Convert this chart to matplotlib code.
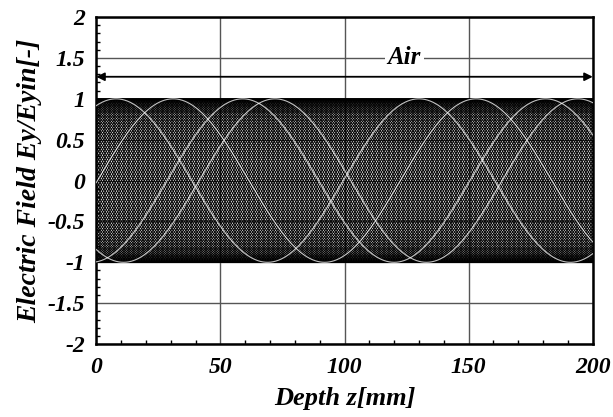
import matplotlib.pyplot as plt
import numpy as np

# wave parameters
wavelength_mm = 122.0          # distance between white arc peaks of the same family
n_snapshots = 120              # number of time snapshots drawn (black curves)
gap_peaks_mm = [8, 31, 59, 72]  # peak positions of the white (gap) arcs

depth_range = [0, 200]
xticks = [0, 50, 100, 150, 200]
yticks = [-2, -1.5, -1, -0.5, 0, 0.5, 1, 1.5, 2]
ytick_labels = ['-2', '-1.5', '-1', '-0.5', '0', '0.5', '1', '1.5', '2']
region_label = 'Air'
region_y = 1.27


def main():
    font = {'family': 'Liberation Serif', 'weight': 'bold', 'style': 'italic'}
    fig = plt.figure(figsize=(6.13, 4.17), dpi=100)
    ax = fig.add_axes([0.157, 0.175, 0.81, 0.784])

    z = np.linspace(depth_range[0], depth_range[1], 1201)
    k = 2 * np.pi / wavelength_mm
    for i in range(n_snapshots):
        phase = 2 * np.pi * i / n_snapshots
        ax.plot(z, np.cos(k * z - phase), color='black', lw=0.75, zorder=2)
    for p in gap_peaks_mm:
        ax.plot(z, np.cos(k * (z - p)), color='white', lw=0.8, alpha=0.75, zorder=3)

    ax.set_xlim(depth_range)
    ax.set_ylim(-2, 2)
    ax.set_xticks(xticks)
    ax.set_xticks(np.arange(0, 201, 10), minor=True)
    ax.set_yticks(yticks)
    ax.set_yticks(np.arange(-2, 2.01, 0.1), minor=True)
    ax.set_xticklabels([str(x) for x in xticks], fontdict=font, fontsize=17)
    ax.set_yticklabels(ytick_labels, fontdict=font, fontsize=17)
    ax.tick_params(which='both', direction='in', top=False, right=False)
    ax.tick_params(which='major', length=0)
    ax.tick_params(axis='y', which='major', pad=8)
    ax.tick_params(axis='x', which='major', pad=9)
    ax.tick_params(which='minor', length=3, width=1)
    ax.grid(True, which='major', color='#555555', lw=1.0, zorder=0)
    for s in ax.spines.values():
        s.set_linewidth(1.8)

    ax.annotate('', xy=(200, region_y), xytext=(0, region_y),
                arrowprops=dict(arrowstyle='<|-|>', color='black', lw=1.3,
                                mutation_scale=12, shrinkA=0, shrinkB=0),
                zorder=4)
    ax.text(124, 1.5, region_label, ha='center', va='center', fontsize=18,
            bbox=dict(facecolor='white', edgecolor='none', pad=2), zorder=4, **font)

    ax.set_xlabel('Depth z[mm]', fontsize=19, labelpad=7, **font)
    ax.set_ylabel('Electric Field Ey/Eyin[-]', fontsize=20, labelpad=4, **font)

    fig.savefig('out.png', dpi=100)


if __name__ == '__main__':
    main()
